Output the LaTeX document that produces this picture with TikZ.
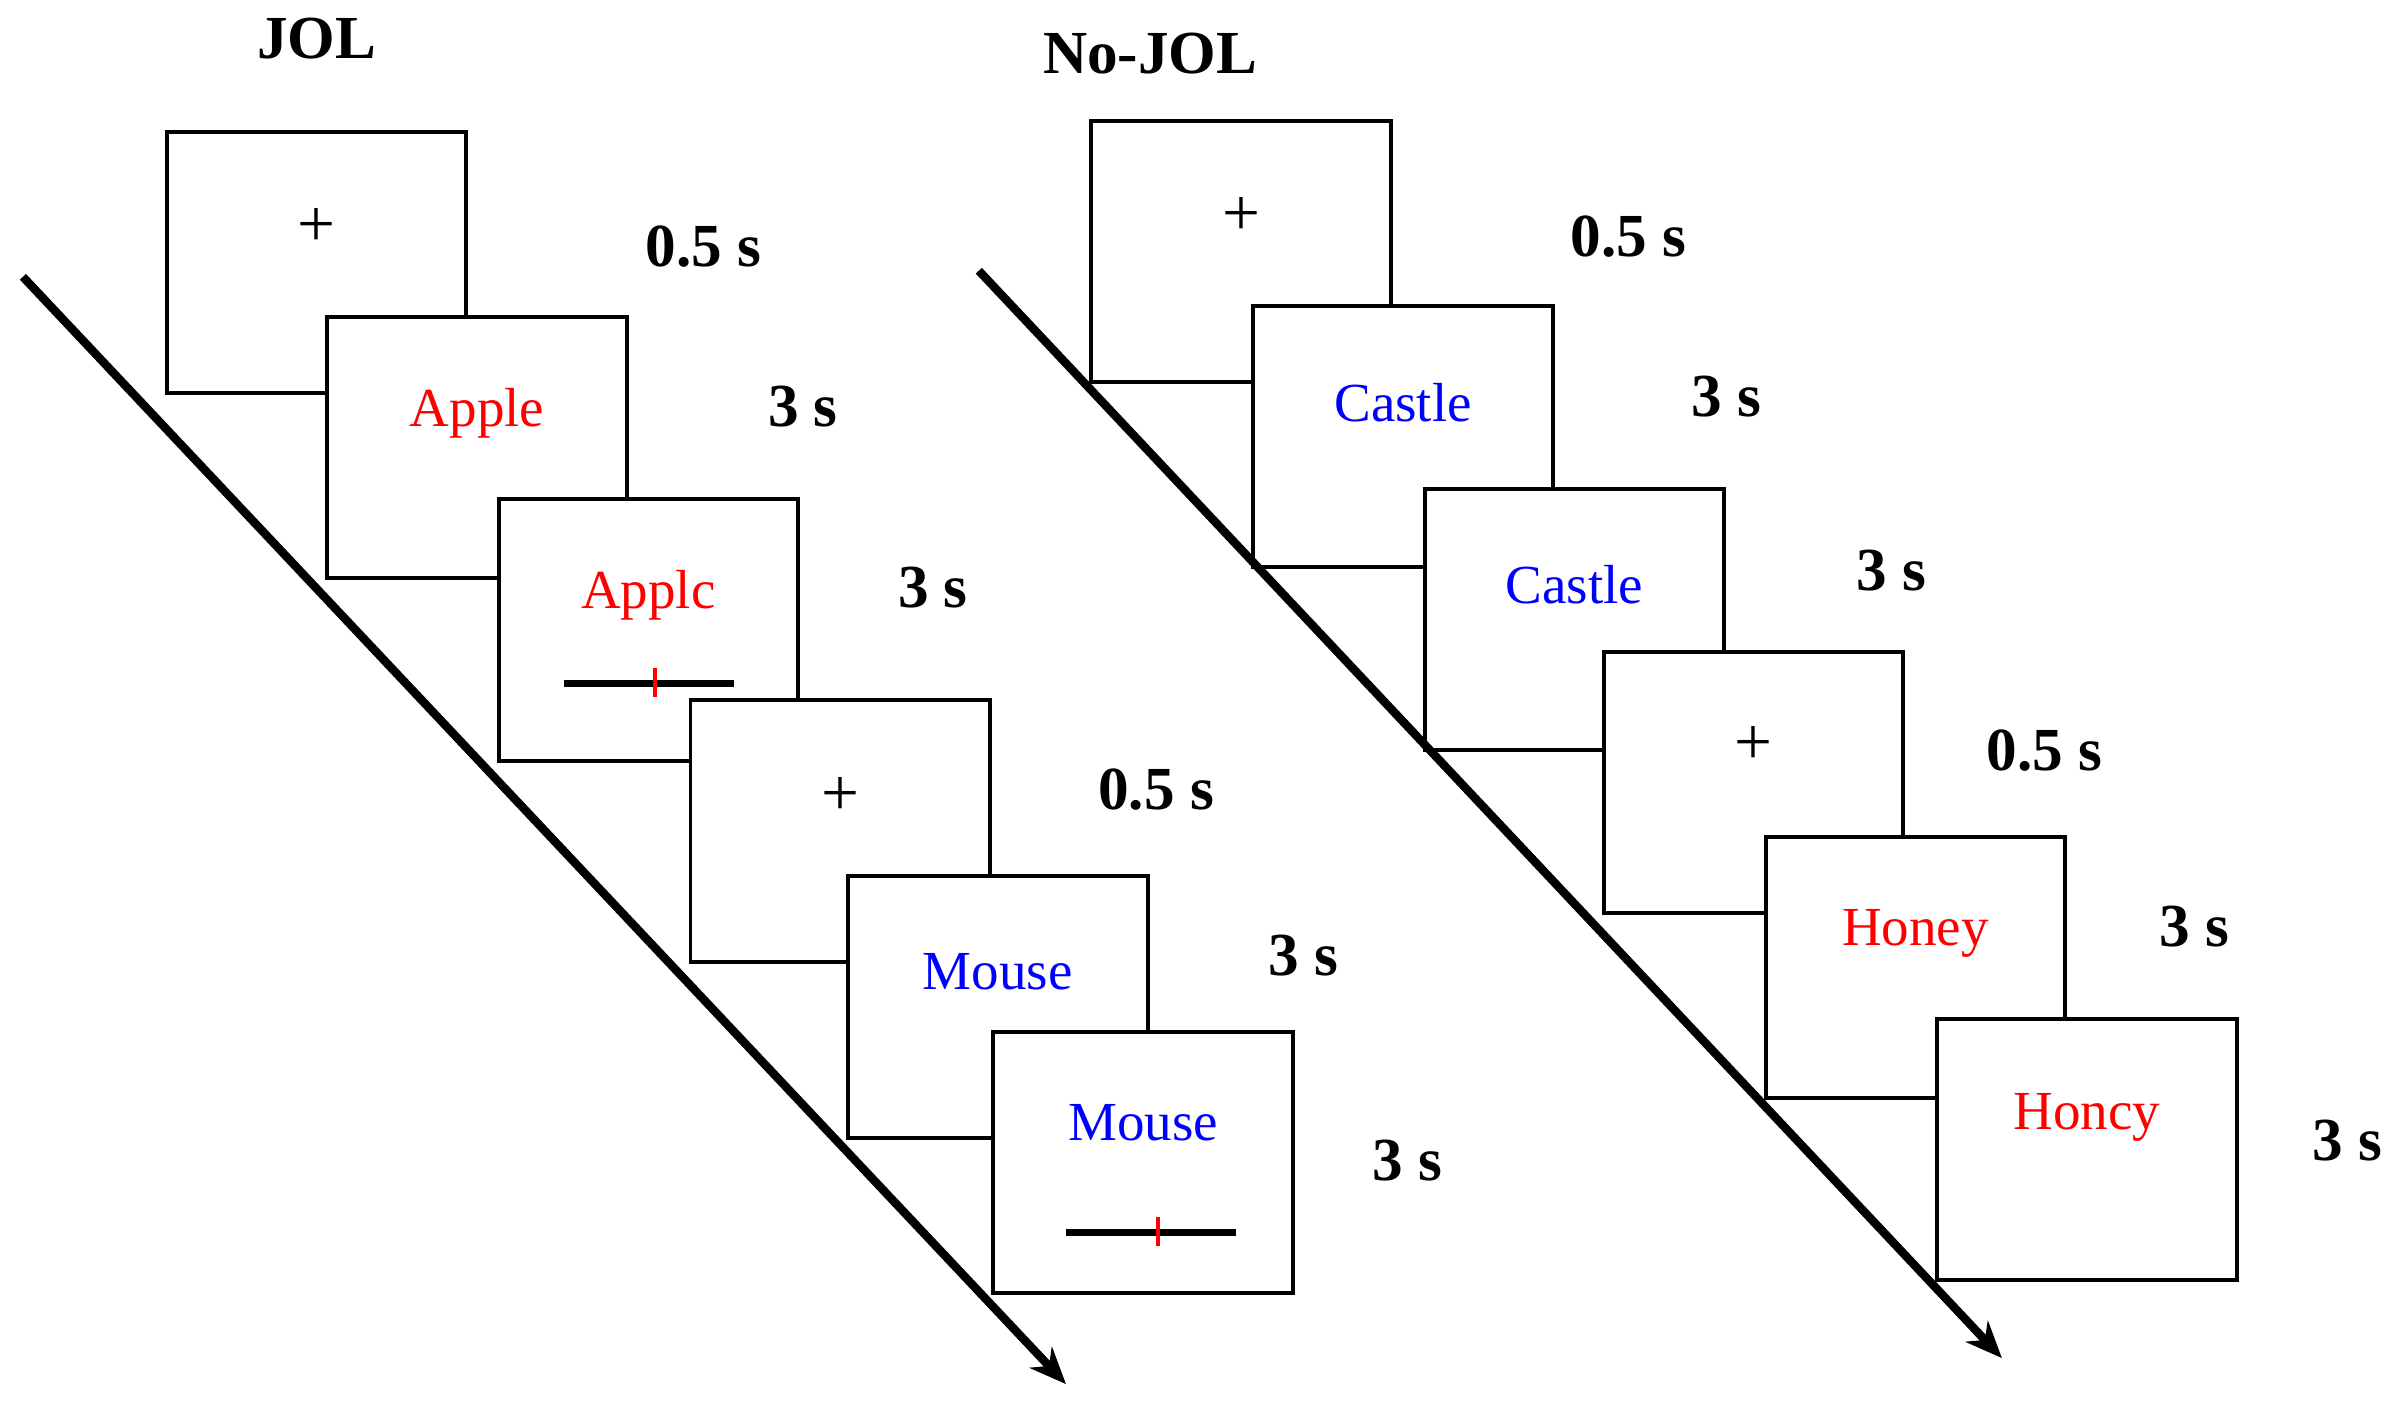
\documentclass[tikz,border=0pt]{standalone}
\usepackage{fontspec}
\setmainfont{Liberation Serif}
\usetikzlibrary{arrows.meta}

\begin{document}
\begin{tikzpicture}[x=1pt,y=-1pt,
	screen/.style={draw,line width=2.6pt,fill=white,minimum width=196pt,minimum height=171pt,inner sep=0pt},
	word/.style={font=\fontsize{36}{40}\selectfont,inner sep=0pt},
	fix/.style={font=\fontsize{44}{48}\selectfont,inner sep=0pt},
	dur/.style={font=\fontsize{40}{44}\selectfont\bfseries,inner sep=0pt},
	cond/.style={font=\fontsize{40}{44}\selectfont\bfseries,inner sep=0pt},
	timeline/.style={line width=5.5pt,-{Stealth[length=24pt,width=20pt]}},
	slider/.style={line width=4.5pt},
	marker/.style={red,line width=2.6pt}]
    \useasboundingbox (0,0) rectangle (1568,916.7);
    \node[cond] (jol) at (207,25) {JOL};
    \node[cond] (nojol) at (752,35) {No-JOL};

    \node[screen] (j1) at (207,171.5) {};
    \node[fix] (jp1) at ([yshift=23pt]j1.center) {+};
    \node[screen] (j2) at (312,292.5) {};
    \node[word,red] (jw2) at ([yshift=22pt]j2.center) {Apple};
    \node[screen] (j3) at (424,412) {};
    \node[word,red] (jw3) at ([yshift=23pt]j3.center) {Applc};
    \draw[slider] ([xshift=-55pt,yshift=-35pt]j3.center) -- ++(111,0);
    \draw[marker] ([xshift=4pt,yshift=-25pt]j3.center) -- ++(0,19);
    \node[screen] (j4) at (549.5,543.5) {};
    \node[fix] (jp4) at ([yshift=23pt]j4.center) {+};
    \node[screen] (j5) at (652.5,658.5) {};
    \node[word,blue] (jw5) at ([yshift=23pt]j5.center) {Mouse};
    \node[screen] (j6) at (747.5,760) {};
    \node[word,blue] (jw6) at ([yshift=26pt]j6.center) {Mouse};
    \draw[slider] ([xshift=-50.5pt,yshift=-46pt]j6.center) -- ++(111,0);
    \draw[marker] ([xshift=9.5pt,yshift=-36pt]j6.center) -- ++(0,19);

    \node[dur] (jd1) at (460,161) {0.5 s};
    \node[dur] (jd2) at (525,266) {3 s};
    \node[dur] (jd3) at (610,384) {3 s};
    \node[dur] (jd4) at (756,516) {0.5 s};
    \node[dur] (jd5) at (852,625) {3 s};
    \node[dur] (jd6) at (920,759) {3 s};

    \node[screen] (n1) at (811.5,164.5) {};
    \node[fix] (np1) at ([yshift=23pt]n1.center) {+};
    \node[screen] (n2) at (917.5,285.5) {};
    \node[word,blue] (nw2) at ([yshift=22pt]n2.center) {Castle};
    \node[screen] (n3) at (1029.5,405) {};
    \node[word,blue] (nw3) at ([yshift=23pt]n3.center) {Castle};
    \node[screen] (n4) at (1146.5,511.5) {};
    \node[fix] (np4) at ([yshift=24pt]n4.center) {+};
    \node[screen] (n5) at (1252.5,632.5) {};
    \node[word,red] (nw5) at ([yshift=22pt]n5.center) {Honey};
    \node[screen] (n6) at (1364.5,751.5) {};
    \node[word,red] (nw6) at ([yshift=21pt]n6.center) {Honcy};

    \node[dur] (nd1) at (1065,155) {0.5 s};
    \node[dur] (nd2) at (1129,259) {3 s};
    \node[dur] (nd3) at (1237,373) {3 s};
    \node[dur] (nd4) at (1337,491) {0.5 s};
    \node[dur] (nd5) at (1435,606) {3 s};
    \node[dur] (nd6) at (1535,746) {3 s};

    \coordinate (jtop) at (15,181);
    \coordinate (jbot) at (697,905);
    \coordinate (ntop) at (640,177);
    \coordinate (nbot) at (1309,888);
    \draw[timeline] (jtop) -- (jbot);
    \draw[timeline] (ntop) -- (nbot);
\end{tikzpicture}
\end{document}
